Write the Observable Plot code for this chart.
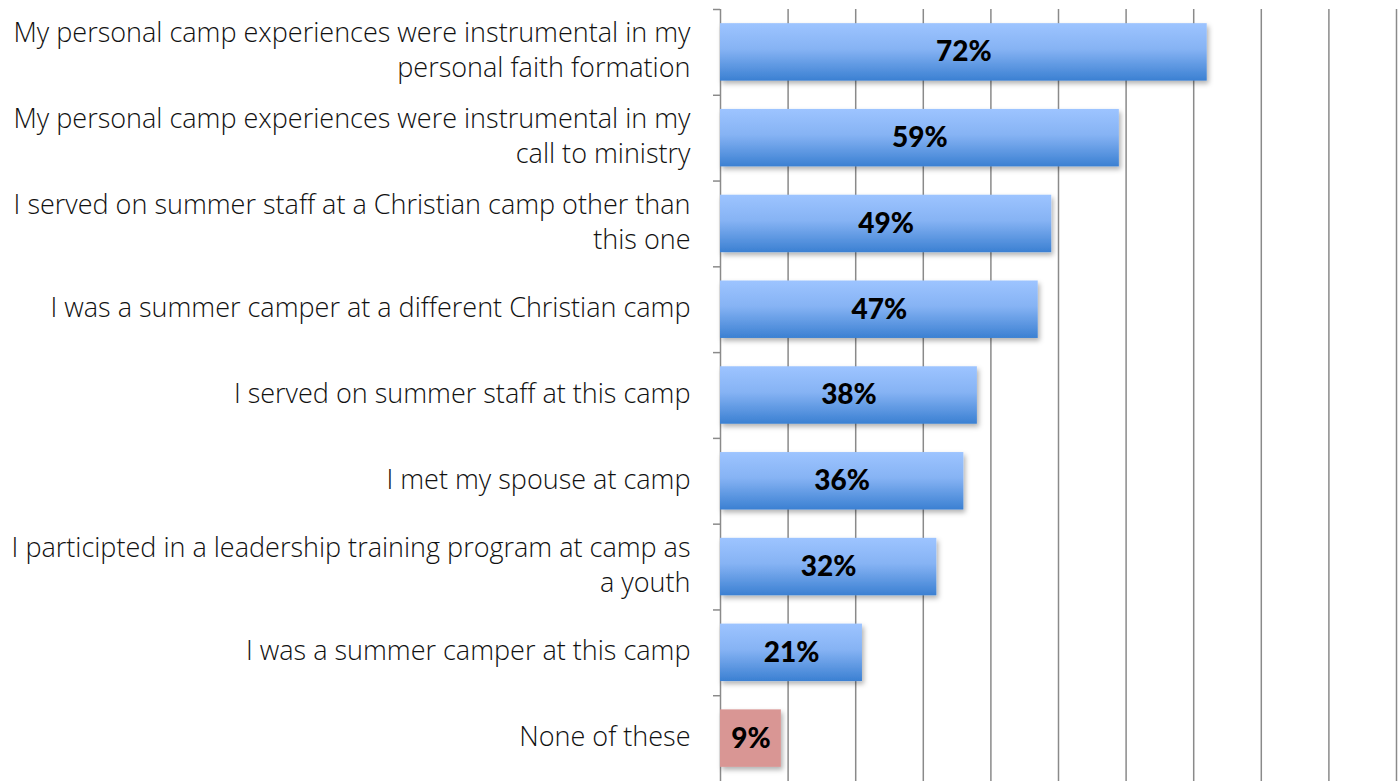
<!DOCTYPE html>
<html>
<head>
<meta charset="utf-8">
<script src="https://cdn.jsdelivr.net/npm/d3@7"></script>
<script src="https://cdn.jsdelivr.net/npm/@observablehq/plot@0.6"></script>
<style>
  html, body { margin: 0; padding: 0; background: #fff; }
  #chart { width: 1400px; height: 781px; overflow: hidden; }
</style>
</head>
<body>
<div id="chart"></div>
<script>
const categories = [
  "My personal camp experiences were instrumental in my\npersonal faith formation",
  "My personal camp experiences were instrumental in my\ncall to ministry",
  "I served on summer staff at a Christian camp other than\nthis one",
  "I was a summer camper at a different Christian camp",
  "I served on summer staff at this camp",
  "I met my spouse at camp",
  "I participted in a leadership training program at camp as\na youth",
  "I was a summer camper at this camp",
  "None of these"
];
const values = [72, 59, 49, 47, 38, 36, 32, 21, 9];
const highlight = [false, false, false, false, false, false, false, false, true];

const data = categories.map((c, i) => ({category: c, value: values[i], none: highlight[i]}));

const W = 1400, H = 781, mTop = 9, mLeft = 720;
const step = (H - mTop) / categories.length;

const defs = () => {
  const d = d3.create("svg:defs");
  const g = d.append("linearGradient").attr("id", "blueGrad").attr("x1", 0).attr("y1", 0).attr("x2", 0).attr("y2", 1);
  g.append("stop").attr("offset", "0%").attr("stop-color", "#9dc4ff");
  g.append("stop").attr("offset", "45%").attr("stop-color", "#86b3f4");
  g.append("stop").attr("offset", "100%").attr("stop-color", "#3b80d2");
  const f = d.append("filter").attr("id", "shadow").attr("x", "-5%").attr("y", "-10%").attr("width", "120%").attr("height", "140%");
  f.append("feDropShadow").attr("dx", 2).attr("dy", 3).attr("stdDeviation", 2.5).attr("flood-color", "#000").attr("flood-opacity", 0.3);
  return d.node();
};

const chart = Plot.plot({
  width: W,
  height: H,
  marginLeft: mLeft,
  marginRight: 4,
  marginTop: mTop,
  marginBottom: 0,
  style: {fontFamily: "'Open Sans', 'Noto Sans', sans-serif", background: "#fff"},
  x: {domain: [0, 100], axis: null},
  y: {domain: categories, paddingInner: 0.33, paddingOuter: 0.165, round: false, axis: null},
  marks: [
    defs,
    Plot.gridX({ticks: d3.range(10, 101, 10), stroke: "#8a8a8a", strokeOpacity: 1, strokeWidth: 1.5}),
    Plot.ruleX([0], {stroke: "#8a8a8a", strokeWidth: 1.5}),
    Plot.axisY({anchor: "left", label: null, tickSize: 7, tickFormat: () => "", dy: -step / 2, stroke: "#8a8a8a", strokeWidth: 1.5}),
    Plot.axisY({anchor: "left", label: null, tickSize: 0, tickPadding: 30, fontSize: 27, lineHeight: 1.3, dy: -4, fill: "#111", fontWeight: 300}),
    Plot.barX(data, {x: "value", y: "category", fill: d => d.none ? "#d99694" : "url(#blueGrad)"}),
    Plot.text(data, {x: d => d.value / 2, y: "category", text: d => d.value + "%", fontFamily: "Lato, sans-serif", fontSize: 28, fontWeight: 900, fill: "#000"})
  ]
});

d3.select(chart).selectAll("g[aria-label=bar] rect").attr("filter", "url(#shadow)");
document.getElementById("chart").appendChild(chart);
</script>
</body>
</html>
